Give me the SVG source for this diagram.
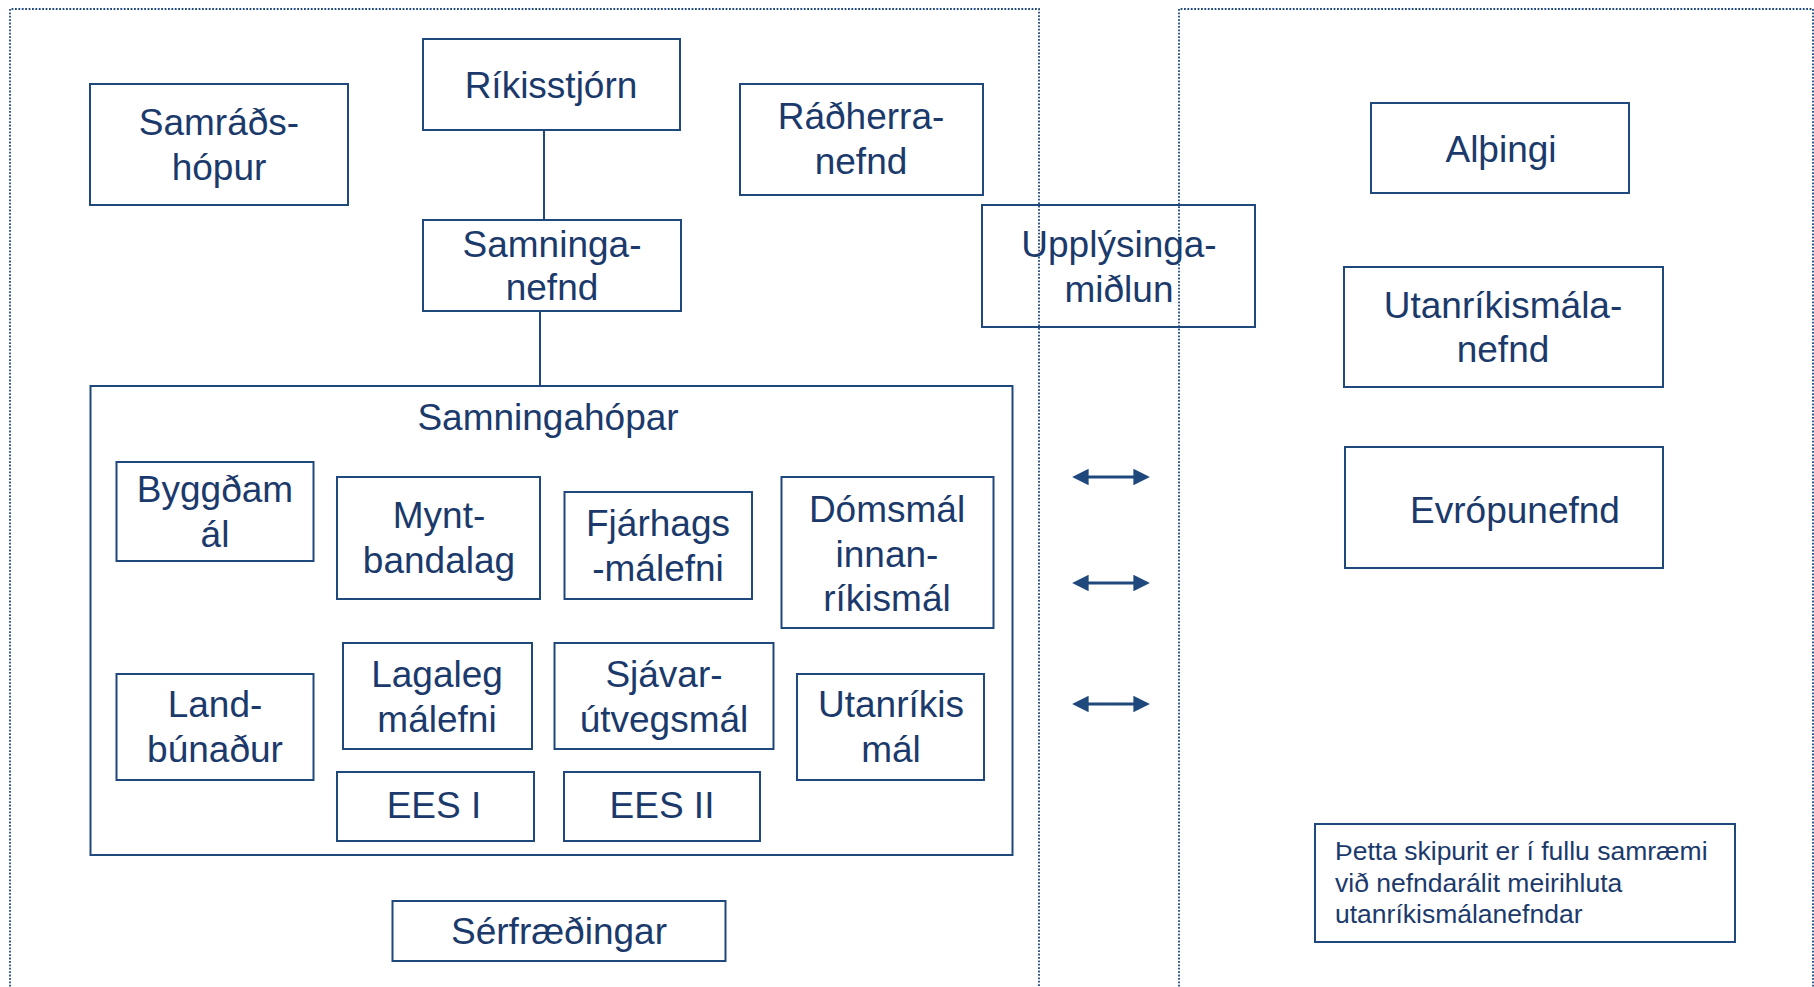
<svg xmlns="http://www.w3.org/2000/svg" width="1814" height="987" viewBox="0 0 1814 987">
<defs>
<style>
.box{fill:none;stroke:#1F497D;stroke-width:2}
.t{font-family:"Liberation Sans",Arial,sans-serif;font-size:37px;fill:#1B3A6B;text-anchor:middle}
.grp{font-size:37px}
.note{font-family:"Liberation Sans",Arial,sans-serif;font-size:26.5px;fill:#1B3A6B}
.con{stroke:#1F497D;stroke-width:2;fill:none}
.arr{stroke:#1F497D;stroke-width:3;fill:none;marker-start:url(#ah);marker-end:url(#ah)}
.dot{fill:none;stroke:#1F497D;stroke-width:1.8;stroke-dasharray:1.8 1.6}
</style>
<marker id="ah" viewBox="0 0 10 10" refX="4" refY="5" markerWidth="5.5" markerHeight="5.5" orient="auto-start-reverse" markerUnits="strokeWidth">
<path d="M0,0 L10,5 L0,10 z" fill="#1F497D"/>
</marker>
</defs>
<rect width="1814" height="987" fill="#fff"/>

<g id="connectors">
<line class="con" x1="544" y1="130" x2="544" y2="220"/>
<line class="con" x1="540" y1="311" x2="540" y2="386"/>
<line class="arr" x1="1082" y1="477" x2="1140" y2="477"/>
<line class="arr" x1="1082" y1="583" x2="1140" y2="583"/>
<line class="arr" x1="1082" y1="704" x2="1140" y2="704"/>
</g>

<g id="samradshopur"><rect class="box" x="90" y="84" width="258" height="121"/><text class="t" x="219" y="135">Samráðs-</text><text class="t" x="219" y="180">hópur</text></g>
<g id="rikisstjorn"><rect class="box" x="423" y="39" width="257" height="91"/><text class="t" x="551" y="98">Ríkisstjórn</text></g>
<g id="samninganefnd"><rect class="box" x="423" y="220" width="258" height="91"/><text class="t" x="552" y="257">Samninga-</text><text class="t" x="552" y="300">nefnd</text></g>
<g id="radherranefnd"><rect class="box" x="740" y="84" width="243" height="111"/><text class="t" x="861" y="129">Ráðherra-</text><text class="t" x="861" y="174">nefnd</text></g>
<g id="upplysingamidlun"><rect class="box" x="982" y="205" width="273" height="122"/><text class="t" x="1119" y="257">Upplýsinga-</text><text class="t" x="1119" y="302">miðlun</text></g>
<g id="althingi"><rect class="box" x="1371" y="103" width="258" height="90"/><text class="t" x="1501" y="162">Alþingi</text></g>
<g id="utanrikismalanefnd"><rect class="box" x="1344" y="267" width="319" height="120"/><text class="t" x="1503" y="318">Utanríkismála-</text><text class="t" x="1503" y="362">nefnd</text></g>
<g id="evropunefnd"><rect class="box" x="1345" y="447" width="318" height="121"/><text class="t" x="1515" y="523">Evrópunefnd</text></g>
<g id="note"><rect class="box" x="1315" y="824" width="420" height="118"/><text class="note" x="1335" y="860">Þetta skipurit er í fullu samræmi</text><text class="note" x="1335" y="892">við nefndarálit meirihluta</text><text class="note" x="1335" y="923">utanríkismálanefndar</text></g>

<g id="samningahopar"><rect class="box" x="90.5" y="386" width="922" height="469"/><text class="t grp" x="548" y="430">Samningahópar</text></g>
<g id="byggdamal"><rect class="box" x="116.5" y="462" width="197" height="99"/><text class="t" x="215" y="502">Byggðam</text><text class="t" x="215" y="547">ál</text></g>
<g id="myntbandalag"><rect class="box" x="337" y="477" width="203" height="122"/><text class="t" x="439" y="528">Mynt-</text><text class="t" x="439" y="573">bandalag</text></g>
<g id="fjarhagsmalefni"><rect class="box" x="564.5" y="492" width="187.5" height="107"/><text class="t" x="658" y="536">Fjárhags</text><text class="t" x="658" y="581">-málefni</text></g>
<g id="domsmal"><rect class="box" x="781.5" y="477" width="212" height="151"/><text class="t" x="887" y="522">Dómsmál</text><text class="t" x="887" y="567">innan-</text><text class="t" x="887" y="611">ríkismál</text></g>
<g id="landbunadur"><rect class="box" x="116.5" y="674" width="197" height="106"/><text class="t" x="215" y="717">Land-</text><text class="t" x="215" y="762">búnaður</text></g>
<g id="lagalegmalefni"><rect class="box" x="343" y="643" width="189" height="106"/><text class="t" x="437" y="687">Lagaleg</text><text class="t" x="437" y="732">málefni</text></g>
<g id="sjavarutvegsmal"><rect class="box" x="554.5" y="643" width="219" height="106"/><text class="t" x="664" y="687">Sjávar-</text><text class="t" x="664" y="732">útvegsmál</text></g>
<g id="utanrikismal"><rect class="box" x="797" y="674" width="187" height="106"/><text class="t" x="891" y="717">Utanríkis</text><text class="t" x="891" y="762">mál</text></g>
<g id="ees1"><rect class="box" x="337" y="772" width="197" height="69"/><text class="t" x="434" y="818">EES I</text></g>
<g id="ees2"><rect class="box" x="564" y="772" width="196" height="69"/><text class="t" x="662" y="818">EES II</text></g>
<g id="serfraedingar"><rect class="box" x="392.5" y="901" width="333" height="60"/><text class="t" x="559" y="944">Sérfræðingar</text></g>

<g id="regions">
<path class="dot" d="M10,990 V9 H1039 V990"/>
<path class="dot" d="M1179,990 V9 H1813 V990"/>
</g>
</svg>
